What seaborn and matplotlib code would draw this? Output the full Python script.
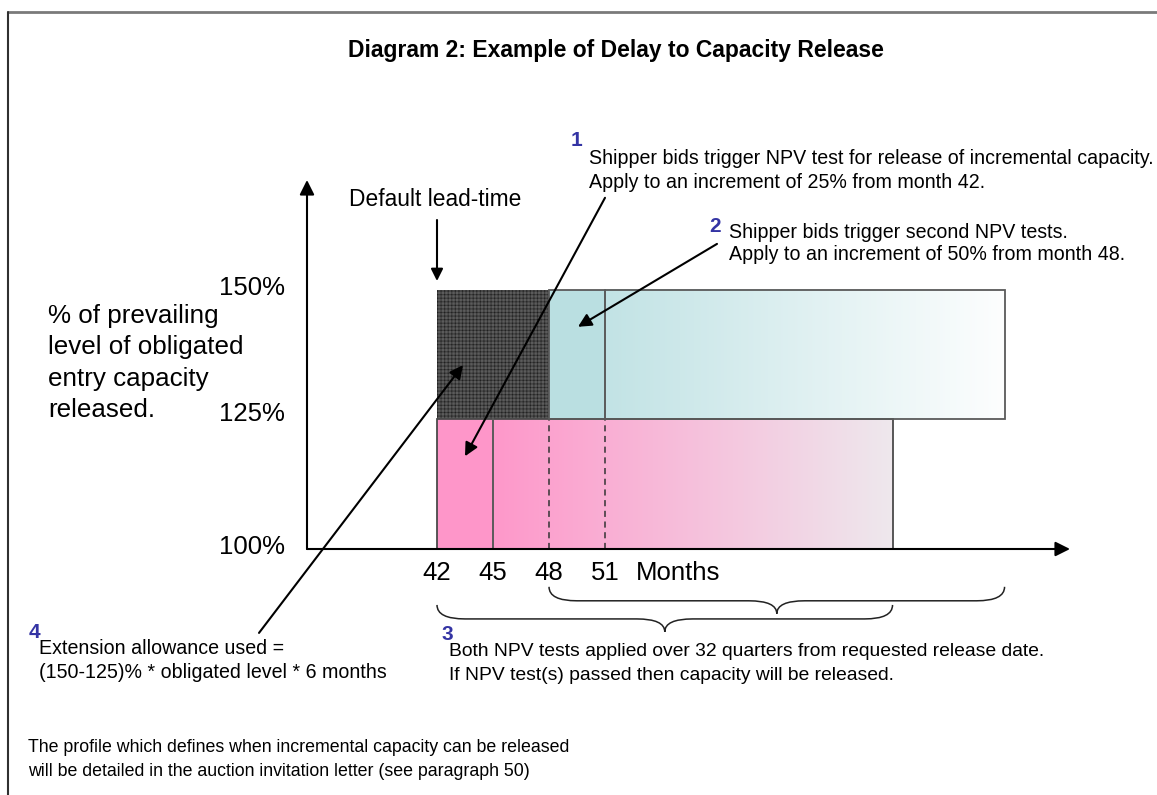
import numpy as np
import matplotlib
matplotlib.use("Agg")
import matplotlib.pyplot as plt
import seaborn as sns
from matplotlib.path import Path
from matplotlib.patches import PathPatch
from matplotlib.lines import Line2D
from matplotlib.colors import to_rgb

# ---- data ----
month_ticks = [42, 45, 48, 51]
pct_ticks = [100, 125, 150]
pct_labels = ["100%", "125%", "150%"]

# first NPV test block (pink): 100-125% from month 42
first_start, first_solid_end, first_end = 42, 45, 66.4
first_low, first_high = 100, 125
# second NPV test block (teal): 125-150% from month 48
second_start, second_solid_end, second_end = 48, 51, 72.4
second_low, second_high = 125, 150
# extension allowance (hatched): months 42-48, 125-150%
ext_start, ext_end = 42, 48
ext_low, ext_high = 125, 150
dashed_months = [48, 51]
# 32 quarter test windows (braces)
brace_starts = [42, 48]
brace_ends = [66.4, 72.4]

W, H = 1157, 795
sns.set_theme(style="white")
plt.rcParams["font.family"] = ["Liberation Sans", "DejaVu Sans"]
plt.rcParams["text.color"] = "black"
plt.rcParams["hatch.linewidth"] = 0.35
plt.rcParams["hatch.color"] = "#5e5e5e"

fig = plt.figure(figsize=(W / 100, H / 100), dpi=100)
ax = fig.add_axes([0, 0, 1, 1])
ax.set_axis_off()

PX_M, PX_P = 18.67, 5.18   # pixels per month / per percent
XLIM = (42 - 437 / PX_M, 42 + (W - 437) / PX_M)
YLIM = (100 - (H - 549) / PX_P, 100 + 549 / PX_P)

navy = "#3434a4"
ANN = 14.1


def ftext(x, y, s, **kw):
    fig.text(x / W, 1 - y / H, s, **kw)


def gradient(x0, x1, y0, y1, c0, c1):
    c0, c1 = np.array(to_rgb(c0)), np.array(to_rgb(c1))
    t = np.linspace(0, 1, 256)[None, :, None]
    img = c0 + (c1 - c0) * t
    ax.imshow(img, extent=(x0, x1, y0, y1), aspect="auto", zorder=1,
              interpolation="bilinear")


def brace(x0, x1, y0, drop, tip, a=1.5):
    xm = (x0 + x1) / 2
    y1, y2 = y0 - drop, y0 - tip
    verts = [(x0, y0), (x0, y1), (x0 + a, y1), (xm - a, y1),
             (xm, y1), (xm, y2), (xm, y1), (xm + a, y1),
             (x1 - a, y1), (x1, y1), (x1, y0)]
    codes = [Path.MOVETO, Path.CURVE3, Path.CURVE3, Path.LINETO,
             Path.CURVE3, Path.CURVE3, Path.CURVE3, Path.CURVE3,
             Path.LINETO, Path.CURVE3, Path.CURVE3]
    ax.add_patch(PathPatch(Path(verts, codes), fill=False, lw=1.1,
                           edgecolor="#222222"))


def arrow(start, end, ms=20):
    ax.annotate("", xy=end, xytext=start,
                arrowprops=dict(arrowstyle="-|>", color="black", lw=1.5,
                                mutation_scale=ms, shrinkA=0, shrinkB=0))


# pink block
ax.bar(first_start, first_high - first_low, width=first_solid_end - first_start,
       bottom=first_low, align="edge", color="#fe96c9", lw=0, zorder=1)
gradient(first_solid_end, first_end, first_low, first_high, "#fe98ca", "#eee8ed")
ax.bar(first_start, first_high - first_low, width=first_end - first_start,
       bottom=first_low, align="edge", fill=False, edgecolor="#4a4a4a",
       lw=1.3, zorder=3)
ax.plot([first_solid_end] * 2, [first_low, first_high], color="#5a5a5a", lw=1.4, zorder=3)
for m in dashed_months:
    ax.plot([m, m], [first_low, first_high], color="#333333", lw=1.1,
            ls=(0, (4, 3)), zorder=3)

# teal block
ax.bar(second_start, second_high - second_low, width=second_solid_end - second_start,
       bottom=second_low, align="edge", color="#badfe1", lw=0, zorder=1)
gradient(second_solid_end, second_end, second_low, second_high, "#c2e3e5", "#fdfefe")
ax.bar(second_start, second_high - second_low, width=second_end - second_start,
       bottom=second_low, align="edge", fill=False, edgecolor="#5a5a5a",
       lw=1.3, zorder=3)
ax.plot([second_solid_end] * 2, [second_low, second_high], color="#5a5a5a", lw=1.4, zorder=3)

# hatched extension block
ax.bar(ext_start, ext_high - ext_low, width=ext_end - ext_start, bottom=ext_low,
       align="edge", color="#101010", edgecolor="#5e5e5e", hatch="+" * 12,
       lw=0, zorder=2)

# axes arrows
origin_x = 42 - 130 / PX_M
arrow((origin_x, 100), (origin_x, 100 + 369 / PX_P), ms=22)
arrow((origin_x, 100), (42 + 633 / PX_M, 100), ms=22)

# tick labels
for v, lab in zip(pct_ticks, pct_labels):
    ax.text(42 - 152 / PX_M, v + (1.0 if v == 125 else 0.3), lab, ha="right",
            va="center", fontsize=18.5, zorder=4)
for m in month_ticks:
    ax.text(m, 100 - 24 / PX_P, str(m), ha="center", va="center", fontsize=18.5)
ax.text(42 + 199 / PX_M, 100 - 24 / PX_P, "Months", ha="left", va="center",
        fontsize=18.5)

# braces
for b0, b1, yb in zip(brace_starts, brace_ends, [89.2, 92.7]):
    brace(b0, b1, yb, drop=2.7, tip=5.2)

# annotation arrows
arrow((42, 100 + 329 / PX_P), (42, 100 + 268 / PX_P), ms=18)                 # lead-time
arrow((42 + 168 / PX_M, 167.8), (42 + 28 / PX_M, 117.9), ms=20)              # 1
arrow((42 + 280 / PX_M, 158.9), (42 + 141 / PX_M, 142.9), ms=20)             # 2
arrow((42 - 178 / PX_M, 83.8), (42 + 26 / PX_M, 135.5), ms=20)               # 4

ax.set_xlim(*XLIM)
ax.set_ylim(*YLIM)

# frame lines
fig.add_artist(Line2D([8 / W, 1], [1 - 12 / H] * 2, transform=fig.transFigure,
                      color="#7a7a7a", lw=2))
fig.add_artist(Line2D([8 / W, 8 / W], [0, 1 - 12 / H], transform=fig.transFigure,
                      color="#303030", lw=1.5))

# texts
ftext(616, 50, "Diagram 2: Example of Delay to Capacity Release", ha="center",
      va="center", fontsize=16.5, fontweight="bold")
ftext(349, 200, "Default lead-time", va="center", fontsize=16.4)

for i, line in enumerate(["% of prevailing", "level of obligated",
                          "entry capacity", "released."]):
    ftext(48, 316 + i * 31.3, line, va="center", fontsize=18.7)

ftext(571, 140, "1", va="center", fontsize=15, fontweight="bold", color=navy)
ftext(589, 158, "Shipper bids trigger NPV test for release of incremental capacity.",
      va="center", fontsize=ANN)
ftext(589, 182, "Apply to an increment of 25% from month 42.", va="center", fontsize=ANN)

ftext(709, 226, "2", va="center", fontsize=15, fontweight="bold", color=navy)
ftext(729, 232, "Shipper bids trigger second NPV tests.", va="center", fontsize=ANN)
ftext(729, 255, "Apply to an increment of 50% from month 48.", va="center", fontsize=ANN)

ftext(441, 635, "3", va="center", fontsize=15, fontweight="bold", color=navy)
ftext(449, 652, "Both NPV tests applied over 32 quarters from requested release date.",
      va="center", fontsize=13.9)
ftext(449, 675, "If NPV test(s) passed then capacity will be released.",
      va="center", fontsize=13.9)

ftext(29, 633, "4", va="center", fontsize=15, fontweight="bold", color=navy)
ftext(39, 648, "Extension allowance used =", va="center", fontsize=ANN)
ftext(39, 672, "(150-125)% * obligated level * 6 months", va="center", fontsize=ANN)

ftext(28, 748, "The profile which defines when incremental capacity can be released",
      va="center", fontsize=12.8)
ftext(28, 772, "will be detailed in the auction invitation letter (see paragraph 50)",
      va="center", fontsize=12.8)

fig.savefig("out.png", dpi=100)
